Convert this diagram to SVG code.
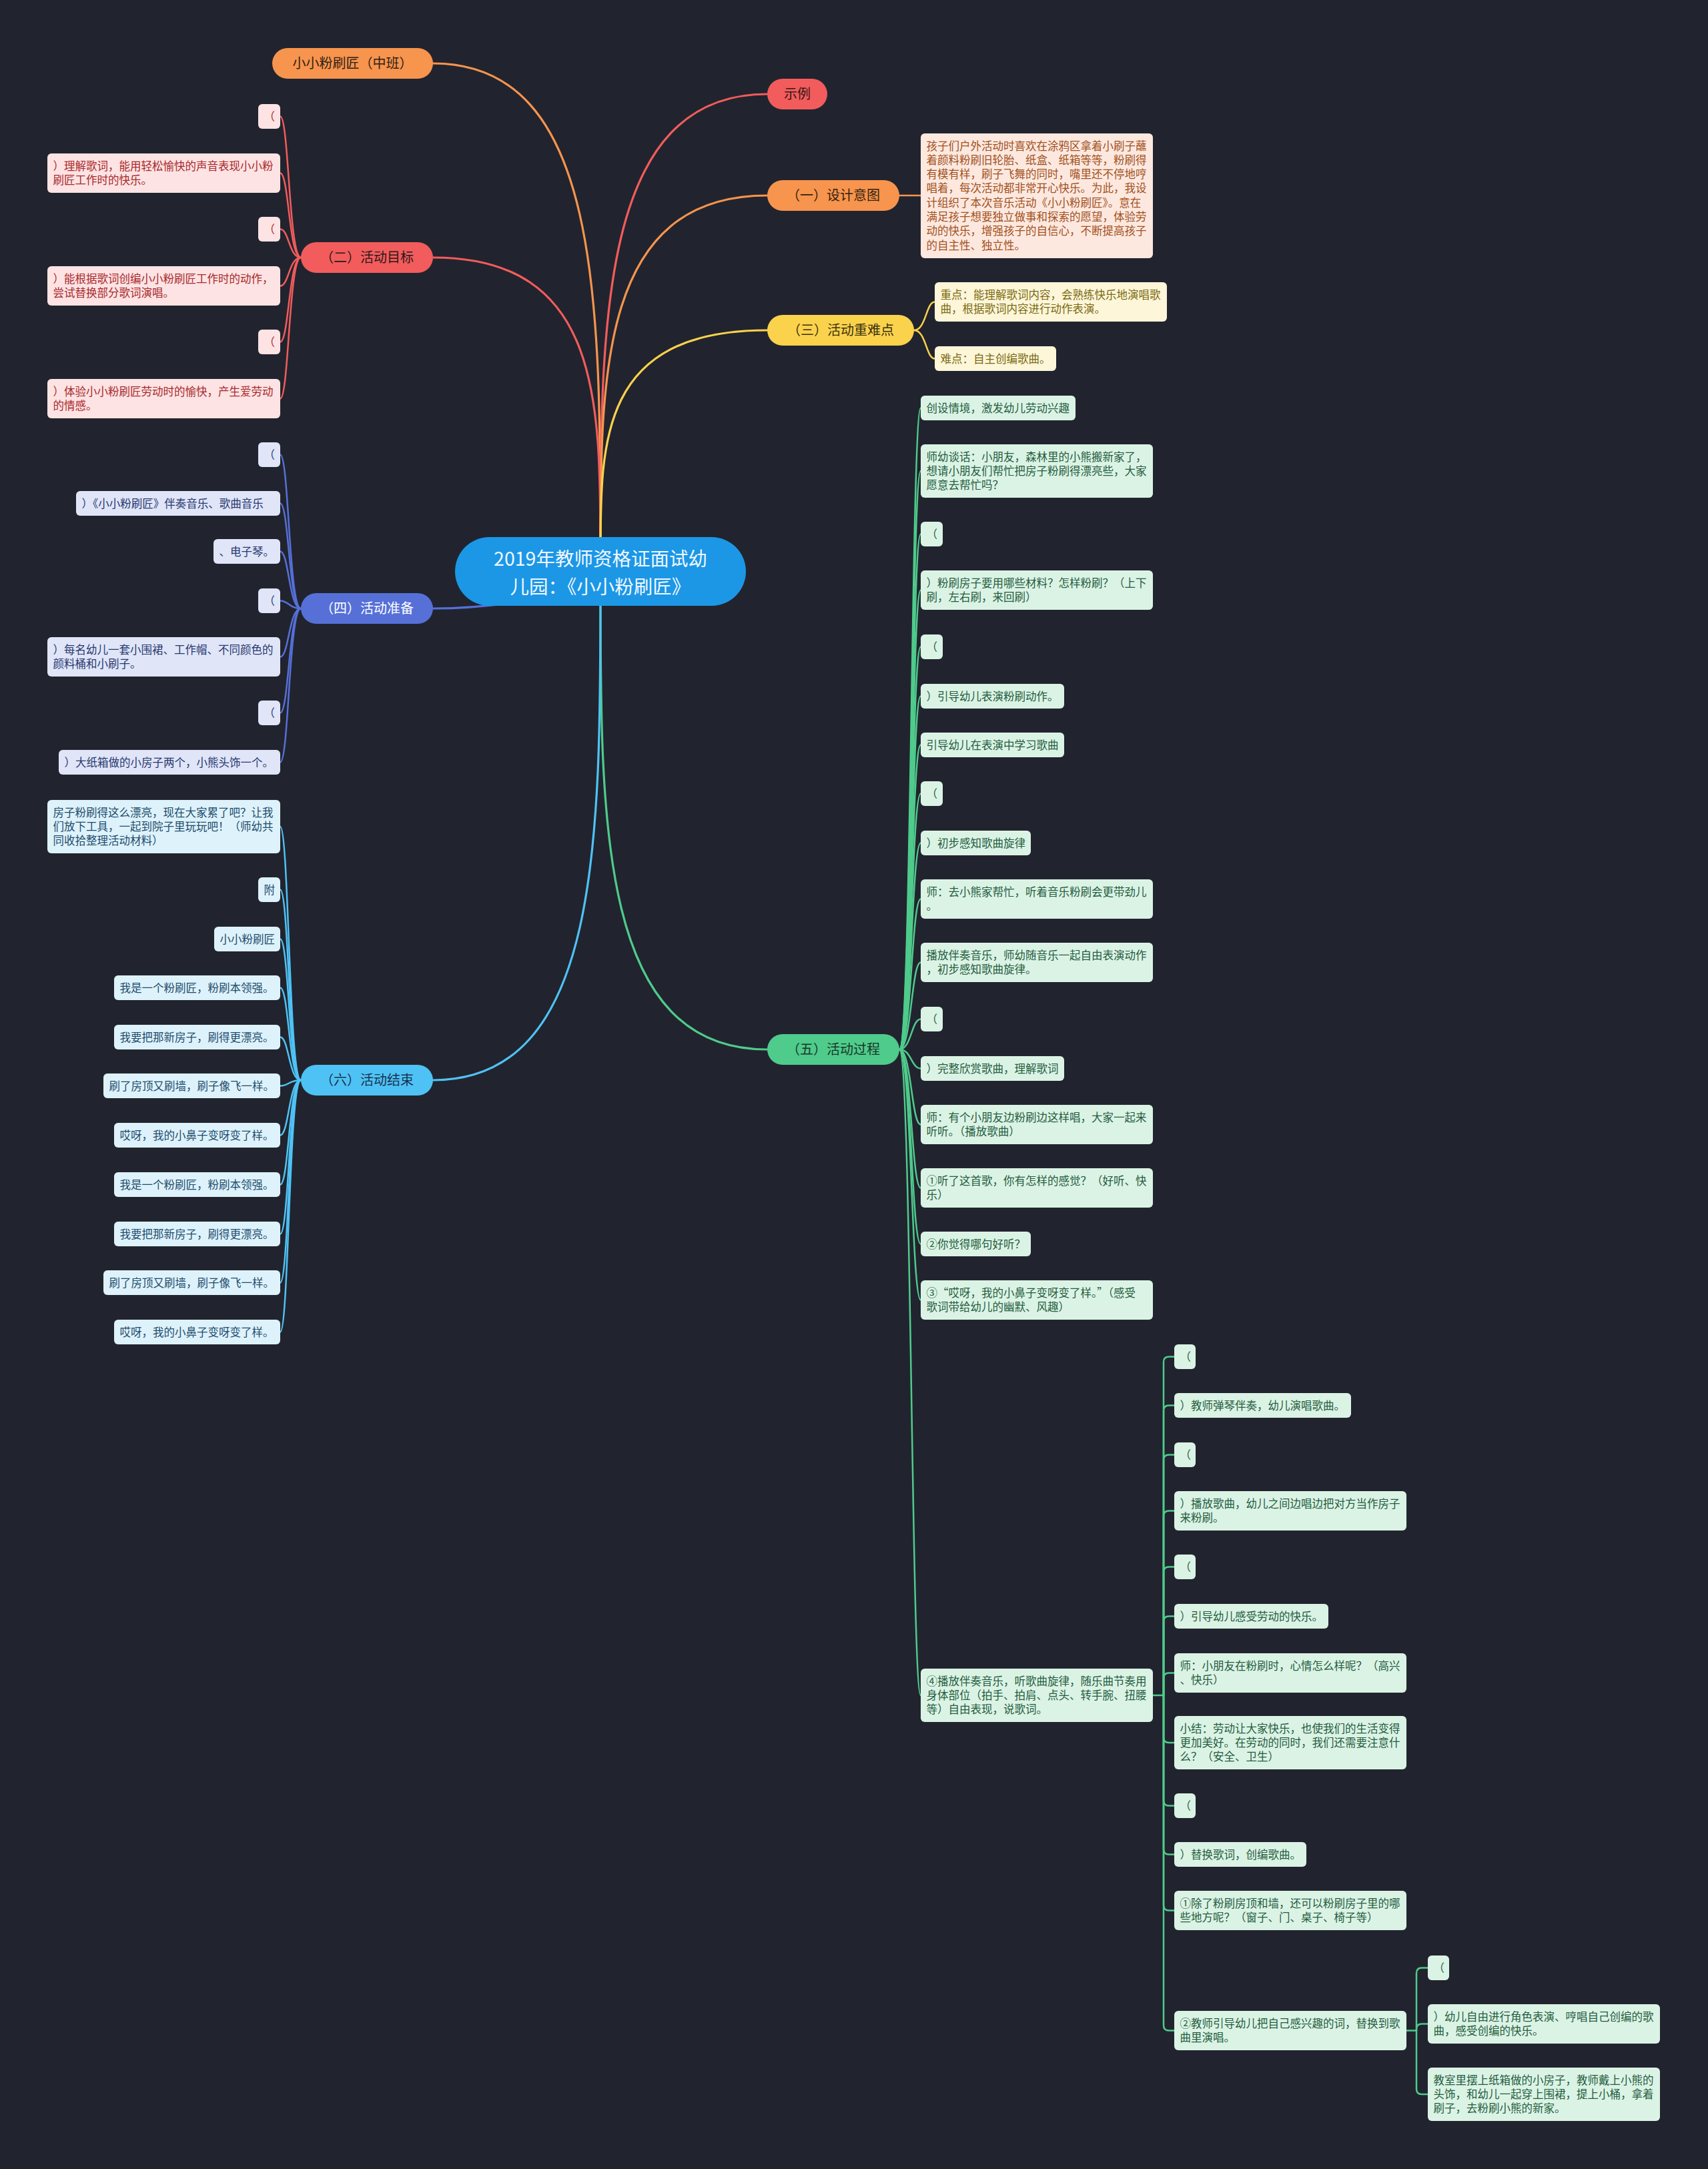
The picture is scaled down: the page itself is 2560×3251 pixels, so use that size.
<svg xmlns="http://www.w3.org/2000/svg" width="2560" height="3251" viewBox="0 0 2560 3251">
<style>
text{font-family:"Noto Sans CJK SC","Noto Sans",sans-serif}
.c text{font-size:16.5px}
.pill text{font-size:20px;text-anchor:middle}
.ln{fill:none;stroke-width:2.5;stroke-linecap:round}
.mn{fill:none;stroke-width:3.2;stroke-linecap:round}
.red rect{fill:#fde3e3}.red text{fill:#a8282c}
.blu rect{fill:#e0e5f8}.blu text{fill:#27386e}
.lbl rect{fill:#def2fb}.lbl text{fill:#1d4c6c}
.org rect{fill:#fde8df}.org text{fill:#a1501c}
.yel rect{fill:#fdf6d9}.yel text{fill:#7a6a12}
.grn rect{fill:#dbf3e5}.grn text{fill:#245c3e}
</style>
<rect width="2560" height="3251" fill="#21242e"/>
<g id="connectors">
<path class="mn" stroke="#f7944d" d="M900 830 C900 450 900 95 649 95"/>
<path class="mn" stroke="#f25c5c" d="M900 830 C900 600 900 386 649 386"/>
<path class="mn" stroke="#f25c5c" d="M900 830 C900 480 900 141 1150 141"/>
<path class="mn" stroke="#f7944d" d="M900 830 C900 560 900 293 1150 293"/>
<path class="mn" stroke="#fbd24c" d="M900 830 C900 660 900 495 1150 495"/>
<path class="mn" stroke="#4fcb8c" d="M900 880 C900 1240 900 1573 1150 1573"/>
<path class="mn" stroke="#4fc2f5" d="M900 880 C900 1260 900 1619 649 1619"/>
<path class="mn" stroke="#5670d8" d="M649 912 C700 912 740 908 790 900"/>
<g stroke="#f25c5c">
<path class="ln" d="M451 386 C433 386 433 174.5 420 174.5"/>
<path class="ln" d="M451 386 C433 386 433 259.5 420 259.5"/>
<path class="ln" d="M451 386 C433 386 433 343.5 420 343.5"/>
<path class="ln" d="M451 386 C433 386 433 428.5 420 428.5"/>
<path class="ln" d="M451 386 C433 386 433 512.5 420 512.5"/>
<path class="ln" d="M451 386 C433 386 433 597.5 420 597.5"/>
</g>
<g stroke="#5670d8">
<path class="ln" d="M451 912 C433 912 433 681.5 420 681.5"/>
<path class="ln" d="M451 912 C433 912 433 754.5 420 754.5"/>
<path class="ln" d="M451 912 C433 912 433 826.5 420 826.5"/>
<path class="ln" d="M451 912 C433 912 433 900.5 420 900.5"/>
<path class="ln" d="M451 912 C433 912 433 984.5 420 984.5"/>
<path class="ln" d="M451 912 C433 912 433 1068.5 420 1068.5"/>
<path class="ln" d="M451 912 C433 912 433 1142.5 420 1142.5"/>
</g>
<g stroke="#4fc2f5">
<path class="ln" d="M451 1619 C433 1619 433 1239 420 1239"/>
<path class="ln" d="M451 1619 C433 1619 433 1333.5 420 1333.5"/>
<path class="ln" d="M451 1619 C433 1619 433 1407.5 420 1407.5"/>
<path class="ln" d="M451 1619 C433 1619 433 1480.5 420 1480.5"/>
<path class="ln" d="M451 1619 C433 1619 433 1554.5 420 1554.5"/>
<path class="ln" d="M451 1619 C433 1619 433 1627.5 420 1627.5"/>
<path class="ln" d="M451 1619 C433 1619 433 1701.5 420 1701.5"/>
<path class="ln" d="M451 1619 C433 1619 433 1775.5 420 1775.5"/>
<path class="ln" d="M451 1619 C433 1619 433 1849.5 420 1849.5"/>
<path class="ln" d="M451 1619 C433 1619 433 1922.5 420 1922.5"/>
<path class="ln" d="M451 1619 C433 1619 433 1996.5 420 1996.5"/>
</g>
<path class="ln" stroke="#f7944d" d="M1348 293 H1380"/>
<g stroke="#fbd24c">
<path class="ln" d="M1370 495 C1388 495 1388 452.5 1401 452.5"/>
<path class="ln" d="M1370 495 C1388 495 1388 537.5 1401 537.5"/>
</g>
<g stroke="#4fcb8c">
<path class="ln" d="M1348 1573 C1366 1573 1366 611.5 1380 611.5"/>
<path class="ln" d="M1348 1573 C1366 1573 1366 706 1380 706"/>
<path class="ln" d="M1348 1573 C1366 1573 1366 800.5 1380 800.5"/>
<path class="ln" d="M1348 1573 C1366 1573 1366 884.5 1380 884.5"/>
<path class="ln" d="M1348 1573 C1366 1573 1366 969.5 1380 969.5"/>
<path class="ln" d="M1348 1573 C1366 1573 1366 1043.5 1380 1043.5"/>
<path class="ln" d="M1348 1573 C1366 1573 1366 1116.5 1380 1116.5"/>
<path class="ln" d="M1348 1573 C1366 1573 1366 1189.5 1380 1189.5"/>
<path class="ln" d="M1348 1573 C1366 1573 1366 1263.5 1380 1263.5"/>
<path class="ln" d="M1348 1573 C1366 1573 1366 1347.5 1380 1347.5"/>
<path class="ln" d="M1348 1573 C1366 1573 1366 1442.5 1380 1442.5"/>
<path class="ln" d="M1348 1573 C1366 1573 1366 1527.5 1380 1527.5"/>
<path class="ln" d="M1348 1573 C1366 1573 1366 1601.5 1380 1601.5"/>
<path class="ln" d="M1348 1573 C1366 1573 1366 1685.5 1380 1685.5"/>
<path class="ln" d="M1348 1573 C1366 1573 1366 1780.5 1380 1780.5"/>
<path class="ln" d="M1348 1573 C1366 1573 1366 1864.5 1380 1864.5"/>
<path class="ln" d="M1348 1573 C1366 1573 1366 1948.5 1380 1948.5"/>
<path class="ln" d="M1348 1573 C1366 1573 1366 2541 1380 2541"/>
<path class="ln" d="M1728 2541 H1744"/>
<path class="ln" d="M1744 2541 V2041.5 Q1744 2033.5 1752 2033.5 H1760"/>
<path class="ln" d="M1744 2541 V2114.5 Q1744 2106.5 1752 2106.5 H1760"/>
<path class="ln" d="M1744 2541 V2188.5 Q1744 2180.5 1752 2180.5 H1760"/>
<path class="ln" d="M1744 2541 V2272.5 Q1744 2264.5 1752 2264.5 H1760"/>
<path class="ln" d="M1744 2541 V2356.5 Q1744 2348.5 1752 2348.5 H1760"/>
<path class="ln" d="M1744 2541 V2430.5 Q1744 2422.5 1752 2422.5 H1760"/>
<path class="ln" d="M1744 2541 V2515.5 Q1744 2507.5 1752 2507.5 H1760"/>
<path class="ln" d="M1744 2541 V2604 Q1744 2612 1752 2612 H1760"/>
<path class="ln" d="M1744 2541 V2698.5 Q1744 2706.5 1752 2706.5 H1760"/>
<path class="ln" d="M1744 2541 V2771.5 Q1744 2779.5 1752 2779.5 H1760"/>
<path class="ln" d="M1744 2541 V2855.5 Q1744 2863.5 1752 2863.5 H1760"/>
<path class="ln" d="M1744 2541 V3035.5 Q1744 3043.5 1752 3043.5 H1760"/>
<path class="ln" d="M2108 3043.5 H2123"/>
<path class="ln" d="M2123 3043.5 V2957.5 Q2123 2949.5 2131 2949.5 H2140"/>
<path class="ln" d="M2123 3043.5 V3041.5 Q2123 3033.5 2131 3033.5 H2140"/>
<path class="ln" d="M2123 3043.5 V3131 Q2123 3139 2131 3139 H2140"/>
</g>
</g>
<g id="root"><rect x="682" y="805" width="436" height="103" rx="51.5" fill="#1c97e6"/>
<text font-size="28.5" fill="#f2f8ff" text-anchor="middle"><tspan x="900" y="848">2019年教师资格证面试幼</tspan><tspan x="900" y="889.5">儿园：《小小粉刷匠》</tspan></text></g>
<g class="pill">
<g id="b-zhongban"><rect x="408" y="72" width="241" height="46" rx="23" fill="#f7944d"/><text x="528.5" y="102" fill="#2e2116">小小粉刷匠（中班）</text></g>
<g id="b-mubiao"><rect x="451" y="363" width="198" height="46" rx="23" fill="#f25c5c"/><text x="550" y="393" fill="#2e1818">（二）活动目标</text></g>
<g id="b-zhunbei"><rect x="451" y="889" width="198" height="46" rx="23" fill="#5670d8"/><text x="550" y="919" fill="#ffffff">（四）活动准备</text></g>
<g id="b-jieshu"><rect x="451" y="1596" width="198" height="46" rx="23" fill="#4fc2f5"/><text x="550" y="1626" fill="#173450">（六）活动结束</text></g>
<g id="b-shili"><rect x="1150" y="118" width="90" height="46" rx="23" fill="#f25c5c"/><text x="1195" y="148" fill="#3a1616">示例</text></g>
<g id="b-sheji"><rect x="1150" y="270" width="198" height="46" rx="23" fill="#f7944d"/><text x="1249" y="300" fill="#33220f">（一）设计意图</text></g>
<g id="b-zhongnan"><rect x="1150" y="472" width="220" height="46" rx="23" fill="#fbd24c"/><text x="1260" y="502" fill="#3a3210">（三）活动重难点</text></g>
<g id="b-guocheng"><rect x="1150" y="1550" width="198" height="46" rx="23" fill="#4fcb8c"/><text x="1249" y="1580" fill="#173826">（五）活动过程</text></g>
</g>
<g class="c red">
<g id="mb1"><rect x="387" y="156" width="33" height="37" rx="6"/><text x="395.5" y="180.5">（</text></g>
<g id="mb2"><rect x="71" y="230" width="349" height="59" rx="6"/><text x="79.5" y="254.5">）理解歌词，能用轻松愉快的声音表现小小粉</text><text x="79.5" y="275.8">刷匠工作时的快乐。</text></g>
<g id="mb3"><rect x="387" y="325" width="33" height="37" rx="6"/><text x="395.5" y="349.5">（</text></g>
<g id="mb4"><rect x="71" y="399" width="349" height="59" rx="6"/><text x="79.5" y="423.5">）能根据歌词创编小小粉刷匠工作时的动作，</text><text x="79.5" y="444.8">尝试替换部分歌词演唱。</text></g>
<g id="mb5"><rect x="387" y="494" width="33" height="37" rx="6"/><text x="395.5" y="518.5">（</text></g>
<g id="mb6"><rect x="71" y="568" width="349" height="59" rx="6"/><text x="79.5" y="592.5">）体验小小粉刷匠劳动时的愉快，产生爱劳动</text><text x="79.5" y="613.8">的情感。</text></g>
</g>
<g class="c blu">
<g id="zb1"><rect x="387" y="663" width="33" height="37" rx="6"/><text x="395.5" y="687.5">（</text></g>
<g id="zb2"><rect x="114" y="736" width="306" height="37" rx="6"/><text x="122.5" y="760.5">）《小小粉刷匠》伴奏音乐、歌曲音乐</text></g>
<g id="zb3"><rect x="320" y="808" width="100" height="37" rx="6"/><text x="328.5" y="832.5">、电子琴。</text></g>
<g id="zb4"><rect x="387" y="882" width="33" height="37" rx="6"/><text x="395.5" y="906.5">（</text></g>
<g id="zb5"><rect x="71" y="955" width="349" height="59" rx="6"/><text x="79.5" y="979.5">）每名幼儿一套小围裙、工作帽、不同颜色的</text><text x="79.5" y="1000.8">颜料桶和小刷子。</text></g>
<g id="zb6"><rect x="387" y="1050" width="33" height="37" rx="6"/><text x="395.5" y="1074.5">（</text></g>
<g id="zb7"><rect x="88" y="1124" width="332" height="37" rx="6"/><text x="96.5" y="1148.5">）大纸箱做的小房子两个，小熊头饰一个。</text></g>
</g>
<g class="c lbl">
<g id="js1"><rect x="71" y="1199" width="349" height="80" rx="6"/><text x="79.5" y="1223.5">房子粉刷得这么漂亮，现在大家累了吧？让我</text><text x="79.5" y="1244.8">们放下工具，一起到院子里玩玩吧！（师幼共</text><text x="79.5" y="1266.1">同收拾整理活动材料）</text></g>
<g id="js2"><rect x="387" y="1315" width="33" height="37" rx="6"/><text x="395.5" y="1339.5">附</text></g>
<g id="js3"><rect x="321" y="1389" width="99" height="37" rx="6"/><text x="329.5" y="1413.5">小小粉刷匠</text></g>
<g id="js4"><rect x="171" y="1462" width="249" height="37" rx="6"/><text x="179.5" y="1486.5">我是一个粉刷匠，粉刷本领强。</text></g>
<g id="js5"><rect x="171" y="1536" width="249" height="37" rx="6"/><text x="179.5" y="1560.5">我要把那新房子，刷得更漂亮。</text></g>
<g id="js6"><rect x="155" y="1609" width="265" height="37" rx="6"/><text x="163.5" y="1633.5">刷了房顶又刷墙，刷子像飞一样。</text></g>
<g id="js7"><rect x="171" y="1683" width="249" height="37" rx="6"/><text x="179.5" y="1707.5">哎呀，我的小鼻子变呀变了样。</text></g>
<g id="js8"><rect x="171" y="1757" width="249" height="37" rx="6"/><text x="179.5" y="1781.5">我是一个粉刷匠，粉刷本领强。</text></g>
<g id="js9"><rect x="171" y="1831" width="249" height="37" rx="6"/><text x="179.5" y="1855.5">我要把那新房子，刷得更漂亮。</text></g>
<g id="js10"><rect x="155" y="1904" width="265" height="37" rx="6"/><text x="163.5" y="1928.5">刷了房顶又刷墙，刷子像飞一样。</text></g>
<g id="js11"><rect x="171" y="1978" width="249" height="37" rx="6"/><text x="179.5" y="2002.5">哎呀，我的小鼻子变呀变了样。</text></g>
</g>
<g class="c org">
<g id="sj1"><rect x="1380" y="200" width="348" height="187" rx="6"/>
<text x="1388.5" y="224.5">孩子们户外活动时喜欢在涂鸦区拿着小刷子蘸</text>
<text x="1388.5" y="245.8">着颜料粉刷旧轮胎、纸盒、纸箱等等，粉刷得</text>
<text x="1388.5" y="267.1">有模有样，刷子飞舞的同时，嘴里还不停地哼</text>
<text x="1388.5" y="288.4">唱着，每次活动都非常开心快乐。为此，我设</text>
<text x="1388.5" y="309.7">计组织了本次音乐活动《小小粉刷匠》。意在</text>
<text x="1388.5" y="331">满足孩子想要独立做事和探索的愿望，体验劳</text>
<text x="1388.5" y="352.3">动的快乐，增强孩子的自信心，不断提高孩子</text>
<text x="1388.5" y="373.6">的自主性、独立性。</text></g>
</g>
<g class="c yel">
<g id="zn1"><rect x="1401" y="423" width="348" height="59" rx="6"/><text x="1409.5" y="447.5">重点：能理解歌词内容，会熟练快乐地演唱歌</text><text x="1409.5" y="468.8">曲，根据歌词内容进行动作表演。</text></g>
<g id="zn2"><rect x="1401" y="519" width="182" height="37" rx="6"/><text x="1409.5" y="543.5">难点：自主创编歌曲。</text></g>
</g>
<g class="c grn">
<g id="gc1"><rect x="1380" y="593" width="232" height="37" rx="6"/><text x="1388.5" y="617.5">创设情境，激发幼儿劳动兴趣</text></g>
<g id="gc2"><rect x="1380" y="666" width="348" height="80" rx="6"/><text x="1388.5" y="690.5">师幼谈话：小朋友，森林里的小熊搬新家了，</text><text x="1388.5" y="711.8">想请小朋友们帮忙把房子粉刷得漂亮些，大家</text><text x="1388.5" y="733.1">愿意去帮忙吗？</text></g>
<g id="gc3"><rect x="1380" y="782" width="33" height="37" rx="6"/><text x="1388.5" y="806.5">（</text></g>
<g id="gc4"><rect x="1380" y="855" width="348" height="59" rx="6"/><text x="1388.5" y="879.5">）粉刷房子要用哪些材料？怎样粉刷？（上下</text><text x="1388.5" y="900.8">刷，左右刷，来回刷）</text></g>
<g id="gc5"><rect x="1380" y="951" width="33" height="37" rx="6"/><text x="1388.5" y="975.5">（</text></g>
<g id="gc6"><rect x="1380" y="1025" width="215" height="37" rx="6"/><text x="1388.5" y="1049.5">）引导幼儿表演粉刷动作。</text></g>
<g id="gc7"><rect x="1380" y="1098" width="215" height="37" rx="6"/><text x="1388.5" y="1122.5">引导幼儿在表演中学习歌曲</text></g>
<g id="gc8"><rect x="1380" y="1171" width="33" height="37" rx="6"/><text x="1388.5" y="1195.5">（</text></g>
<g id="gc9"><rect x="1380" y="1245" width="165" height="37" rx="6"/><text x="1388.5" y="1269.5">）初步感知歌曲旋律</text></g>
<g id="gc10"><rect x="1380" y="1318" width="348" height="59" rx="6"/><text x="1388.5" y="1342.5">师：去小熊家帮忙，听着音乐粉刷会更带劲儿</text><text x="1388.5" y="1363.8">。</text></g>
<g id="gc11"><rect x="1380" y="1413" width="348" height="59" rx="6"/><text x="1388.5" y="1437.5">播放伴奏音乐，师幼随音乐一起自由表演动作</text><text x="1388.5" y="1458.8">，初步感知歌曲旋律。</text></g>
<g id="gc12"><rect x="1380" y="1509" width="33" height="37" rx="6"/><text x="1388.5" y="1533.5">（</text></g>
<g id="gc13"><rect x="1380" y="1583" width="215" height="37" rx="6"/><text x="1388.5" y="1607.5">）完整欣赏歌曲，理解歌词</text></g>
<g id="gc14"><rect x="1380" y="1656" width="348" height="59" rx="6"/><text x="1388.5" y="1680.5">师：有个小朋友边粉刷边这样唱，大家一起来</text><text x="1388.5" y="1701.8">听听。（播放歌曲）</text></g>
<g id="gc15"><rect x="1380" y="1751" width="348" height="59" rx="6"/><text x="1388.5" y="1775.5">①听了这首歌，你有怎样的感觉？（好听、快</text><text x="1388.5" y="1796.8">乐）</text></g>
<g id="gc16"><rect x="1380" y="1846" width="165" height="37" rx="6"/><text x="1388.5" y="1870.5">②你觉得哪句好听？</text></g>
<g id="gc17"><rect x="1380" y="1919" width="348" height="59" rx="6"/><text x="1388.5" y="1943.5">③“哎呀，我的小鼻子变呀变了样。”（感受</text><text x="1388.5" y="1964.8">歌词带给幼儿的幽默、风趣）</text></g>
<g id="gc18"><rect x="1380" y="2501" width="348" height="80" rx="6"/><text x="1388.5" y="2525.5">④播放伴奏音乐，听歌曲旋律，随乐曲节奏用</text><text x="1388.5" y="2546.8">身体部位（拍手、拍肩、点头、转手腕、扭腰</text><text x="1388.5" y="2568.1">等）自由表现，说歌词。</text></g>
<g id="s1"><rect x="1760" y="2015" width="32" height="37" rx="6"/><text x="1768.5" y="2039.5">（</text></g>
<g id="s2"><rect x="1760" y="2088" width="265" height="37" rx="6"/><text x="1768.5" y="2112.5">）教师弹琴伴奏，幼儿演唱歌曲。</text></g>
<g id="s3"><rect x="1760" y="2162" width="32" height="37" rx="6"/><text x="1768.5" y="2186.5">（</text></g>
<g id="s4"><rect x="1760" y="2235" width="348" height="59" rx="6"/><text x="1768.5" y="2259.5">）播放歌曲，幼儿之间边唱边把对方当作房子</text><text x="1768.5" y="2280.8">来粉刷。</text></g>
<g id="s5"><rect x="1760" y="2330" width="32" height="37" rx="6"/><text x="1768.5" y="2354.5">（</text></g>
<g id="s6"><rect x="1760" y="2404" width="231" height="37" rx="6"/><text x="1768.5" y="2428.5">）引导幼儿感受劳动的快乐。</text></g>
<g id="s7"><rect x="1760" y="2478" width="348" height="59" rx="6"/><text x="1768.5" y="2502.5">师：小朋友在粉刷时，心情怎么样呢？（高兴</text><text x="1768.5" y="2523.8">、快乐）</text></g>
<g id="s8"><rect x="1760" y="2572" width="348" height="80" rx="6"/><text x="1768.5" y="2596.5">小结：劳动让大家快乐，也使我们的生活变得</text><text x="1768.5" y="2617.8">更加美好。在劳动的同时，我们还需要注意什</text><text x="1768.5" y="2639.1">么？（安全、卫生）</text></g>
<g id="s9"><rect x="1760" y="2688" width="32" height="37" rx="6"/><text x="1768.5" y="2712.5">（</text></g>
<g id="s10"><rect x="1760" y="2761" width="198" height="37" rx="6"/><text x="1768.5" y="2785.5">）替换歌词，创编歌曲。</text></g>
<g id="s11"><rect x="1760" y="2834" width="348" height="59" rx="6"/><text x="1768.5" y="2858.5">①除了粉刷房顶和墙，还可以粉刷房子里的哪</text><text x="1768.5" y="2879.8">些地方呢？（窗子、门、桌子、椅子等）</text></g>
<g id="s12"><rect x="1760" y="3014" width="348" height="59" rx="6"/><text x="1768.5" y="3038.5">②教师引导幼儿把自己感兴趣的词，替换到歌</text><text x="1768.5" y="3059.8">曲里演唱。</text></g>
<g id="t1"><rect x="2140" y="2931" width="32" height="37" rx="6"/><text x="2148.5" y="2955.5">（</text></g>
<g id="t2"><rect x="2140" y="3004" width="348" height="59" rx="6"/><text x="2148.5" y="3028.5">）幼儿自由进行角色表演、哼唱自己创编的歌</text><text x="2148.5" y="3049.8">曲，感受创编的快乐。</text></g>
<g id="t3"><rect x="2140" y="3099" width="348" height="80" rx="6"/><text x="2148.5" y="3123.5">教室里摆上纸箱做的小房子，教师戴上小熊的</text><text x="2148.5" y="3144.8">头饰，和幼儿一起穿上围裙，提上小桶，拿着</text><text x="2148.5" y="3166.1">刷子，去粉刷小熊的新家。</text></g>
</g>
</svg>
